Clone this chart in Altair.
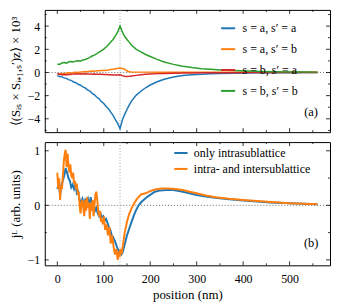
import altair as alt
import pandas as pd

# ---------------- data: panel (a) ----------------
pos_top = [0, 5, 10, 15, 20, 25, 30, 35, 40, 45, 50, 55, 60, 65, 70, 75, 80, 85, 90, 95,
           100, 105, 110, 115, 120, 125, 130, 135, 140, 145, 150, 155, 160, 170, 180, 190,
           200, 215, 230, 250, 270, 290, 310, 330, 350, 380, 410, 440, 470, 500, 530, 560]
s_aa = [-0.27, -0.35, -0.38, -0.47, -0.53, -0.64, -0.68, -0.83, -0.88, -1.02, -1.1, -1.24,
        -1.33, -1.5, -1.6, -1.8, -1.93, -2.14, -2.28, -2.52, -2.68, -2.94, -3.13, -3.42,
        -3.7, -4.07, -4.4, -4.85, -4.1, -3.62, -3.2, -2.8, -2.45, -1.95, -1.62, -1.32,
        -1.08, -0.8, -0.58, -0.4, -0.27, -0.2, -0.15, -0.11, -0.09, -0.06, -0.04, -0.03,
        -0.02, -0.015, -0.01, -0.01]
s_ab = [-0.1, -0.12, -0.08, -0.1, -0.05, -0.03, -0.05, 0.0, 0.02, 0.0, 0.05, 0.06, 0.08,
        0.07, 0.1, 0.12, 0.1, 0.14, 0.15, 0.17, 0.18, 0.2, 0.22, 0.25, 0.28, 0.32, 0.35,
        0.38, 0.35, 0.28, 0.12, 0.06, 0.04, 0.03, 0.03, 0.03, 0.03, 0.02, 0.02, 0.02, 0.02,
        0.02, 0.02, 0.02, 0.01, 0.01, 0.01, 0.01, 0.01, 0.01, 0.01, 0.01]
s_ba = [-0.12, -0.15, -0.2, -0.18, -0.2, -0.17, -0.15, -0.14, -0.12, -0.13, -0.12, -0.13,
        -0.12, -0.14, -0.13, -0.15, -0.14, -0.15, -0.16, -0.16, -0.17, -0.18, -0.19, -0.2,
        -0.21, -0.22, -0.22, -0.2, -0.27, -0.32, -0.34, -0.33, -0.3, -0.25, -0.2, -0.16,
        -0.13, -0.1, -0.08, -0.06, -0.05, -0.04, -0.03, -0.03, -0.02, -0.02, -0.01, -0.01,
        -0.01, -0.01, 0.0, 0.0]
s_bb = [0.72, 0.7, 0.82, 0.86, 0.8, 0.92, 0.95, 0.9, 1.0, 1.02, 0.98, 1.08, 1.12, 1.2,
        1.3, 1.42, 1.5, 1.62, 1.75, 1.88, 2.02, 2.2, 2.4, 2.62, 2.85, 3.15, 3.5, 4.0, 3.5,
        3.1, 2.85, 2.6, 2.35, 2.0, 1.78, 1.55, 1.38, 1.13, 0.9, 0.7, 0.53, 0.42, 0.33, 0.27,
        0.22, 0.16, 0.12, 0.09, 0.07, 0.05, 0.04, 0.03]
top_labels = ["s = a,  s′ = a", "s = a,  s′ = b", "s = b,  s′ = a", "s = b,  s′ = b"]
top_colors = ["#1f77b4", "#ff7f0e", "#d62728", "#2ca02c"]

# ---------------- data: panel (b) ----------------
pos_intra = [0, 3, 6, 9, 12, 15, 18, 21, 24, 27, 30, 33, 36, 39, 42, 45, 48, 51, 54, 57,
             60, 63, 66, 69, 72, 75, 78, 81, 84, 87, 90, 93, 96, 99, 102, 105, 108, 111,
             114, 117, 120, 125, 130, 135, 138, 141, 145, 150, 155, 160, 165, 170, 175,
             182, 190, 196, 203, 210, 220, 235, 250, 265, 280, 300, 320, 340, 370, 400,
             430, 460, 500, 530, 560]
j_intra = [0.3, 0.4, 0.2, 0.38, 0.45, 0.55, 0.68, 0.6, 0.5, 0.45, 0.33, 0.38, 0.3, 0.38,
           0.22, 0.25, 0.1, 0.05, 0.12, 0.02, 0.1, 0.05, 0.12, 0.0, 0.15, -0.05, 0.05, -0.1,
           -0.05, -0.15, -0.2, -0.15, -0.22, -0.2, -0.28, -0.25, -0.32, -0.4, -0.45, -0.55,
           -0.58, -0.68, -0.8, -0.88, -0.9, -0.85, -0.72, -0.55, -0.42, -0.3, -0.18, -0.08,
           0.0, 0.07, 0.13, 0.17, 0.21, 0.25, 0.27, 0.28, 0.28, 0.26, 0.23, 0.19, 0.16,
           0.14, 0.11, 0.09, 0.07, 0.05, 0.04, 0.03, 0.02]
pos_both = [0, 2, 4, 6, 8, 10, 12, 14, 16, 18, 20, 22, 24, 26, 28, 30, 32, 34, 36, 38, 40,
            42, 44, 46, 48, 50, 52, 54, 56, 58, 60, 62, 64, 66, 68, 70, 72, 74, 76, 78, 80,
            82, 84, 86, 88, 90, 92, 94, 96, 98, 100, 103, 106, 109, 112, 115, 118, 121,
            124, 127, 130, 132, 134, 136, 138, 141, 145, 150, 155, 160, 165, 170, 180, 190,
            200, 210, 225, 240, 255, 270, 285, 300, 320, 340, 370, 400, 430, 460, 500, 530,
            560]
j_both = [0.6, 0.3, 0.5, 0.1, 0.35, 0.3, 0.55, 0.8, 0.95, 1.02, 0.7, 0.95, 0.75, 0.6,
          0.75, 0.55, 0.5, 0.6, 0.4, 0.45, 0.3, 0.4, 0.2, 0.25, 0.0, -0.15, 0.05, 0.1, -0.05,
          -0.2, 0.1, -0.1, 0.15, -0.05, 0.05, -0.25, 0.05, -0.1, 0.1, -0.2, 0.0, 0.2, 0.25,
          0.1, -0.1, -0.2, -0.1, -0.3, -0.25, -0.35, -0.2, -0.45, -0.35, -0.55, -0.4, -0.7,
          -0.55, -0.75, -0.9, -0.8, -1.0, -0.85, -0.95, -0.8, -0.9, -0.75, -0.5, -0.3, -0.15,
          -0.05, 0.03, 0.1, 0.2, 0.22, 0.26, 0.29, 0.31, 0.31, 0.3, 0.28, 0.25, 0.22, 0.18,
          0.15, 0.12, 0.1, 0.08, 0.06, 0.04, 0.03, 0.02]
bot_labels = ["only intrasublattice", "intra- and intersublattice"]
bot_colors = ["#1f77b4", "#ff7f0e"]

# tick positions
x_major = [0, 100, 200, 300, 400, 500]
x_minor = [50, 150, 250, 350, 450, 550]
ya_major = [-4, -2, 0, 2, 4]
ya_minor = [-5, -3, -1, 1, 3, 5]
yb_major = [-1, 0, 1]
yb_minor = [-0.5, 0.5]
x_marker = [135]

FONT = "Liberation Serif"
W, HA, HB = 287, 123, 124
XDOM = [-27, 587]
AX = dict(ticks=False, domain=False, grid=False, labelFont=FONT, titleFont=FONT,
          labelFontSize=12, titleFontSize=13, titleFontWeight="normal",
          labelColor="black", titleColor="black")

df_top = pd.concat([
    pd.DataFrame({"x": pos_top, "y": v, "series": lab})
    for v, lab in zip([s_aa, s_ab, s_ba, s_bb], top_labels)
])
df_bot = pd.concat([
    pd.DataFrame({"x": pos_intra, "y": j_intra, "series": bot_labels[0]}),
    pd.DataFrame({"x": pos_both, "y": j_both, "series": bot_labels[1]}),
])


def xenc(axis):
    return alt.X("x:Q", scale=alt.Scale(domain=XDOM, nice=False, zero=False), axis=axis)


def yenc(dom, axis):
    return alt.Y("y:Q", scale=alt.Scale(domain=dom, nice=False, zero=False), axis=axis)


def tick_layers(ydom, ymaj, ymin, h, xaxis, yaxis):
    layers = []
    for vals, ln in [(x_major, 4), (x_minor, 2)]:
        d = pd.DataFrame({"x": vals})
        base = alt.Chart(d).mark_rule(color="black", strokeWidth=0.8)
        layers.append(base.encode(x=xenc(xaxis), y=alt.value(h), y2=alt.value(h - ln)))
        layers.append(base.encode(x=xenc(xaxis), y=alt.value(0), y2=alt.value(ln)))
    for vals, ln in [(ymaj, 4), (ymin, 2)]:
        d = pd.DataFrame({"y": vals})
        base = alt.Chart(d).mark_rule(color="black", strokeWidth=0.8)
        layers.append(base.encode(y=yenc(ydom, yaxis), x=alt.value(0), x2=alt.value(ln)))
        layers.append(base.encode(y=yenc(ydom, yaxis), x=alt.value(W), x2=alt.value(W - ln)))
    return layers


# ---------------- panel (a) ----------------
ADOM = [-5.15, 5.4]
ya_axis = alt.Axis(values=ya_major, title="⟨(Sᵢₛ × Sᵢ₊₁,ₛ′)z⟩ × 10³", format="d",
                   labelPadding=5, titlePadding=5, **AX)
zero_a = alt.Chart(pd.DataFrame({"y": [0]})).mark_rule(
    color="#444", strokeDash=[1, 2], strokeWidth=0.8
).encode(y=yenc(ADOM, ya_axis))
vline_a = alt.Chart(pd.DataFrame({"x": x_marker})).mark_rule(
    color="#888", strokeDash=[1, 2], strokeWidth=0.8
).encode(x=xenc(None))
lines_a = alt.Chart(df_top).mark_line(strokeWidth=1.5).encode(
    x=xenc(None),
    y=yenc(ADOM, ya_axis),
    color=alt.Color("series:N",
                    scale=alt.Scale(domain=top_labels, range=top_colors),
                    legend=alt.Legend(title=None, orient="none", legendX=176, legendY=10,
                                      symbolType="stroke", symbolSize=200,
                                      symbolStrokeWidth=2, labelFont=FONT,
                                      labelFontSize=12, rowPadding=6, labelOffset=6)),
)
label_a = alt.Chart(pd.DataFrame({"t": ["(a)"]})).mark_text(
    font=FONT, fontSize=12.5, align="center", baseline="middle"
).encode(text="t:N", x=alt.value(268), y=alt.value(103))
panel_a = alt.layer(zero_a, vline_a, lines_a, label_a,
                    *tick_layers(ADOM, ya_major, ya_minor, HA, None, ya_axis)
                    ).properties(width=W, height=HA)

# ---------------- panel (b) ----------------
BDOM = [-1.1, 1.16]
yb_axis = alt.Axis(values=yb_major, title="jᴸ (arb. units)", format="d",
                   labelPadding=5, titlePadding=5, **AX)
xb_axis = alt.Axis(values=x_major, title="position (nm)", format="d",
                   labelPadding=8, titlePadding=4, **AX)
zero_b = alt.Chart(pd.DataFrame({"y": [0]})).mark_rule(
    color="#444", strokeDash=[1, 2], strokeWidth=0.8
).encode(y=yenc(BDOM, yb_axis))
vline_b = alt.Chart(pd.DataFrame({"x": x_marker})).mark_rule(
    color="#888", strokeDash=[1, 2], strokeWidth=0.8
).encode(x=xenc(xb_axis))
lines_b = alt.Chart(df_bot).mark_line(strokeWidth=2).encode(
    x=xenc(xb_axis),
    y=yenc(BDOM, yb_axis),
    color=alt.Color("series:N",
                    scale=alt.Scale(domain=bot_labels, range=bot_colors),
                    legend=alt.Legend(title=None, orient="none", legendX=129, legendY=3,
                                      symbolType="stroke", symbolSize=180,
                                      symbolStrokeWidth=2, labelFont=FONT,
                                      labelFontSize=12, rowPadding=2, labelOffset=5)),
)
label_b = alt.Chart(pd.DataFrame({"t": ["(b)"]})).mark_text(
    font=FONT, fontSize=12.5, align="center", baseline="middle"
).encode(text="t:N", x=alt.value(268), y=alt.value(102))
panel_b = alt.layer(zero_b, vline_b, lines_b, label_b,
                    *tick_layers(BDOM, yb_major, yb_minor, HB, xb_axis, yb_axis)
                    ).properties(width=W, height=HB)

chart = alt.vconcat(panel_a, panel_b, spacing=8).resolve_scale(color="independent").configure(
    padding=0
).configure_view(stroke="black", strokeWidth=1).configure_legend(labelColor="black")

chart.save("out.html", embed_options={"renderer": "svg", "actions": False})
